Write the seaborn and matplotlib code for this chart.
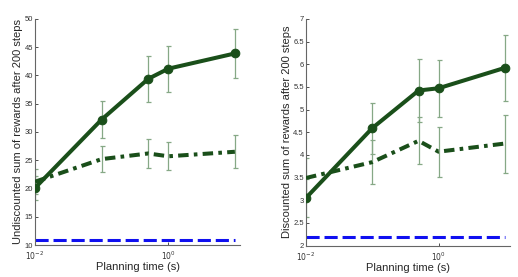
import numpy as np
import pandas as pd
import matplotlib
matplotlib.use('Agg')
import matplotlib.pyplot as plt
import seaborn as sns

# Valores
planning_time = [0.01, 0.1, 0.5, 1.0, 10.0]

undisc_solid = [20.1, 32.2, 39.4, 41.2, 43.9]
undisc_solid_err = [2.1, 3.2, 4.1, 4.1, 4.3]
undisc_dashdot = [21.2, 25.2, 26.2, 25.7, 26.5]
undisc_dashdot_err = [2.2, 2.3, 2.5, 2.5, 2.9]
undisc_baseline = [10.8, 10.8, 10.8, 10.8, 10.8]

disc_solid = [3.05, 4.59, 5.42, 5.47, 5.92]
disc_solid_err = [0.42, 0.56, 0.69, 0.63, 0.73]
disc_dashdot = [3.49, 3.84, 4.31, 4.07, 4.25]
disc_dashdot_err = [0.44, 0.48, 0.52, 0.55, 0.64]
disc_baseline = [2.18, 2.18, 2.18, 2.18, 2.18]

undisc_yticks = [10, 15, 20, 25, 30, 35, 40, 45, 50]
undisc_yticklabels = ['10', '15', '20', '25', '30', '35', '40', '45', '50']
disc_yticks = [2, 2.5, 3, 3.5, 4, 4.5, 5, 5.5, 6, 6.5, 7]
disc_yticklabels = ['2', '2.5', '3', '3.5', '4', '4.5', '5', '5.5', '6', '6.5', '7']

sns.set_style('ticks')
plt.rcParams['font.family'] = ['Liberation Sans', 'DejaVu Sans']

verde = '#1a4f1a'
verde_claro = '#86a886'
azul = '#1010f0'

fig = plt.figure(figsize=(5.18, 2.77), dpi=100)
ax1 = fig.add_axes([0.0676, 0.1155, 0.396, 0.816])
ax2 = fig.add_axes([0.5907, 0.1137, 0.394, 0.818])


def panel(ax, solid, solid_err, dashdot, dashdot_err, base, yticks, yticklabels, ylabel):
    # barras de error
    ax.errorbar(planning_time, solid, yerr=solid_err, fmt='none', ecolor=verde_claro,
                elinewidth=0.9, capsize=1.8, capthick=0.9, zorder=1)
    ax.errorbar(planning_time, dashdot, yerr=dashdot_err, fmt='none', ecolor=verde_claro,
                elinewidth=0.9, capsize=1.8, capthick=0.9, zorder=1)
    # lineas
    sns.lineplot(x=planning_time, y=base, ax=ax, color=azul, lw=2.2,
                 linestyle=(0, (4.3, 1.6)), zorder=2)
    sns.lineplot(x=planning_time, y=dashdot, ax=ax, color=verde, lw=2.9,
                 linestyle=(0, (2.6, 1.3, 0.9, 1.3)), zorder=3)
    sns.lineplot(x=planning_time, y=solid, ax=ax, color=verde, lw=2.9,
                 marker='o', markersize=6.2, markeredgecolor=verde, zorder=4)
    ax.set_xscale('log')
    ax.set_xlim(0.01, 12)
    ax.set_xticks([0.01, 1.0])
    ax.set_xticklabels([r'$10^{-2}$', r'$10^{0}$'])
    ax.minorticks_off()
    ax.set_ylim(yticks[0], yticks[-1])
    ax.set_yticks(yticks)
    ax.set_yticklabels(yticklabels)
    ax.tick_params(direction='in', length=2, width=0.6, labelsize=5.5, colors='#333333', pad=1.5)
    ax.tick_params(axis='x', pad=3.5)
    ax.set_xlabel('Planning time (s)', fontsize=8, labelpad=0)
    ax.set_ylabel(ylabel, fontsize=8, labelpad=1)
    sns.despine(ax=ax)
    for s in ['left', 'bottom']:
        ax.spines[s].set_color('#666666')
        ax.spines[s].set_linewidth(0.8)


panel(ax1, undisc_solid, undisc_solid_err, undisc_dashdot, undisc_dashdot_err,
      undisc_baseline, undisc_yticks, undisc_yticklabels,
      'Undiscounted sum of rewards after 200 steps')
panel(ax2, disc_solid, disc_solid_err, disc_dashdot, disc_dashdot_err,
      disc_baseline, disc_yticks, disc_yticklabels,
      'Discounted sum of rewards after 200 steps')

fig.savefig('out.png', dpi=100)
